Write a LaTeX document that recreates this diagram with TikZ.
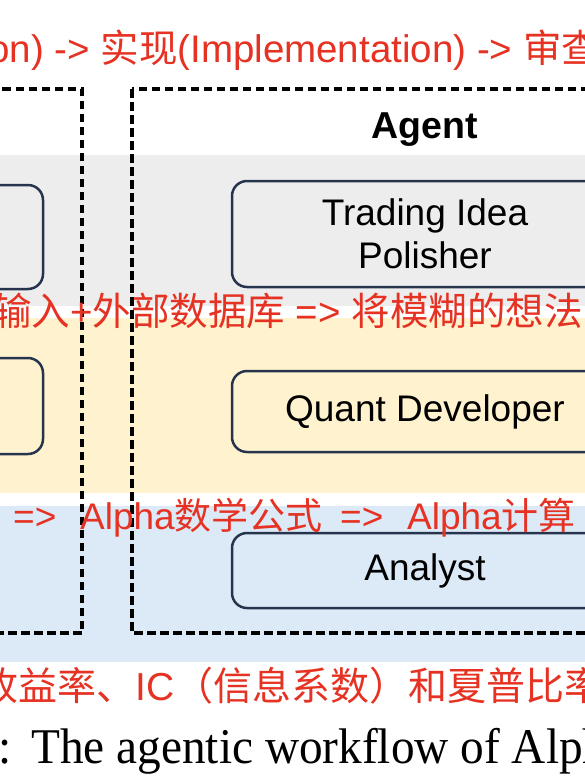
\documentclass[tikz,border=0pt]{standalone}
\usepackage{fontspec}
\setmainfont{Liberation Serif}
\newfontfamily\hv{Liberation Sans}
\newfontfamily\cjk{Noto Sans CJK SC}
\definecolor{redtxt}{RGB}{230,50,35}
\definecolor{bandgray}{RGB}{237,237,237}
\definecolor{bandyellow}{RGB}{255,242,206}
\definecolor{bandblue}{RGB}{220,233,246}
\definecolor{navy}{RGB}{38,52,78}
\begin{document}
\begin{tikzpicture}[x=1pt,y=-1pt,
  ann/.style={text=redtxt, inner sep=0pt, anchor=base west, font=\fontsize{38.5}{40}\selectfont\hv},
  annsmall/.style={ann, font=\fontsize{37}{40}\selectfont\hv},
  annbig/.style={ann, font=\fontsize{39}{40}\selectfont\hv},
  rbox/.style={draw=navy, line width=2.5pt, rounded corners=15pt, inner sep=0pt,
    font=\fontsize{37}{43}\selectfont\hv, align=center, minimum width=386pt},
  dashbox/.style={draw=black, line width=3.3pt, dash pattern=on 8.5pt off 4.5pt},
  captxt/.style={inner sep=0pt, anchor=base west, font=\fontsize{50}{54}\selectfont}]
\useasboundingbox (0,0) rectangle (585,780);
\clip (0,0) rectangle (585,780);
\fill[white] (0,0) rectangle (585,780);
% bands
\fill[bandgray] (0,155) rectangle (585,306);
\fill[bandyellow] (0,318) rectangle (585,493);
\fill[bandblue] (0,506) rectangle (585,662);
% dashed group boxes
\draw[dashbox] (-20,89) rectangle (82,633);
\draw[dashbox] (132,89) rectangle (720,633);
% header
\node[inner sep=0pt, anchor=base, font=\fontsize{37.5}{40}\selectfont\hv\bfseries] (agent) at (425,138) {Agent};
% right column boxes
\node[rbox, minimum height=106pt] (tip) at (425,234) {Trading Idea\\Polisher};
\node[rbox, minimum height=81pt] (qd) at (425,411.5) {Quant Developer};
\node[rbox, minimum height=75pt] (an) at (425,570.5) {Analyst};
% left column boxes (partial)
\node[rbox, minimum height=104pt] (l1) at (-150,237) {};
\node[rbox, minimum height=96pt] (l2) at (-150,406) {};
% red annotations
\node[ann] (r1) at (-12,62) {on) -> {\cjk 实现}(Implementation) -> {\cjk 审查}};
\node[ann] (r2) at (-7,325) {{\cjk 输入}+{\cjk 外部数据库} => {\cjk 将模糊的想法}};
\node[annsmall] (r3a) at (13,529) {=>};
\node[annsmall] (r3b) at (80,529) {Alpha{\cjk 数学公式}};
\node[annsmall] (r3c) at (340,529) {=>};
\node[annsmall] (r3d) at (407,529) {Alpha{\cjk 计算}};
\node[annbig] (r4) at (-21,700) {{\cjk 收益率、}IC{\cjk （信息系数）和夏普比率}};
% caption
\node[captxt] (c1) at (-2,763) {\scalebox{0.946}[1]{:}};
\node[captxt] (c2) at (31,763) {\scalebox{0.946}[1]{The agentic workflow of Alph}};
\end{tikzpicture}
\end{document}
